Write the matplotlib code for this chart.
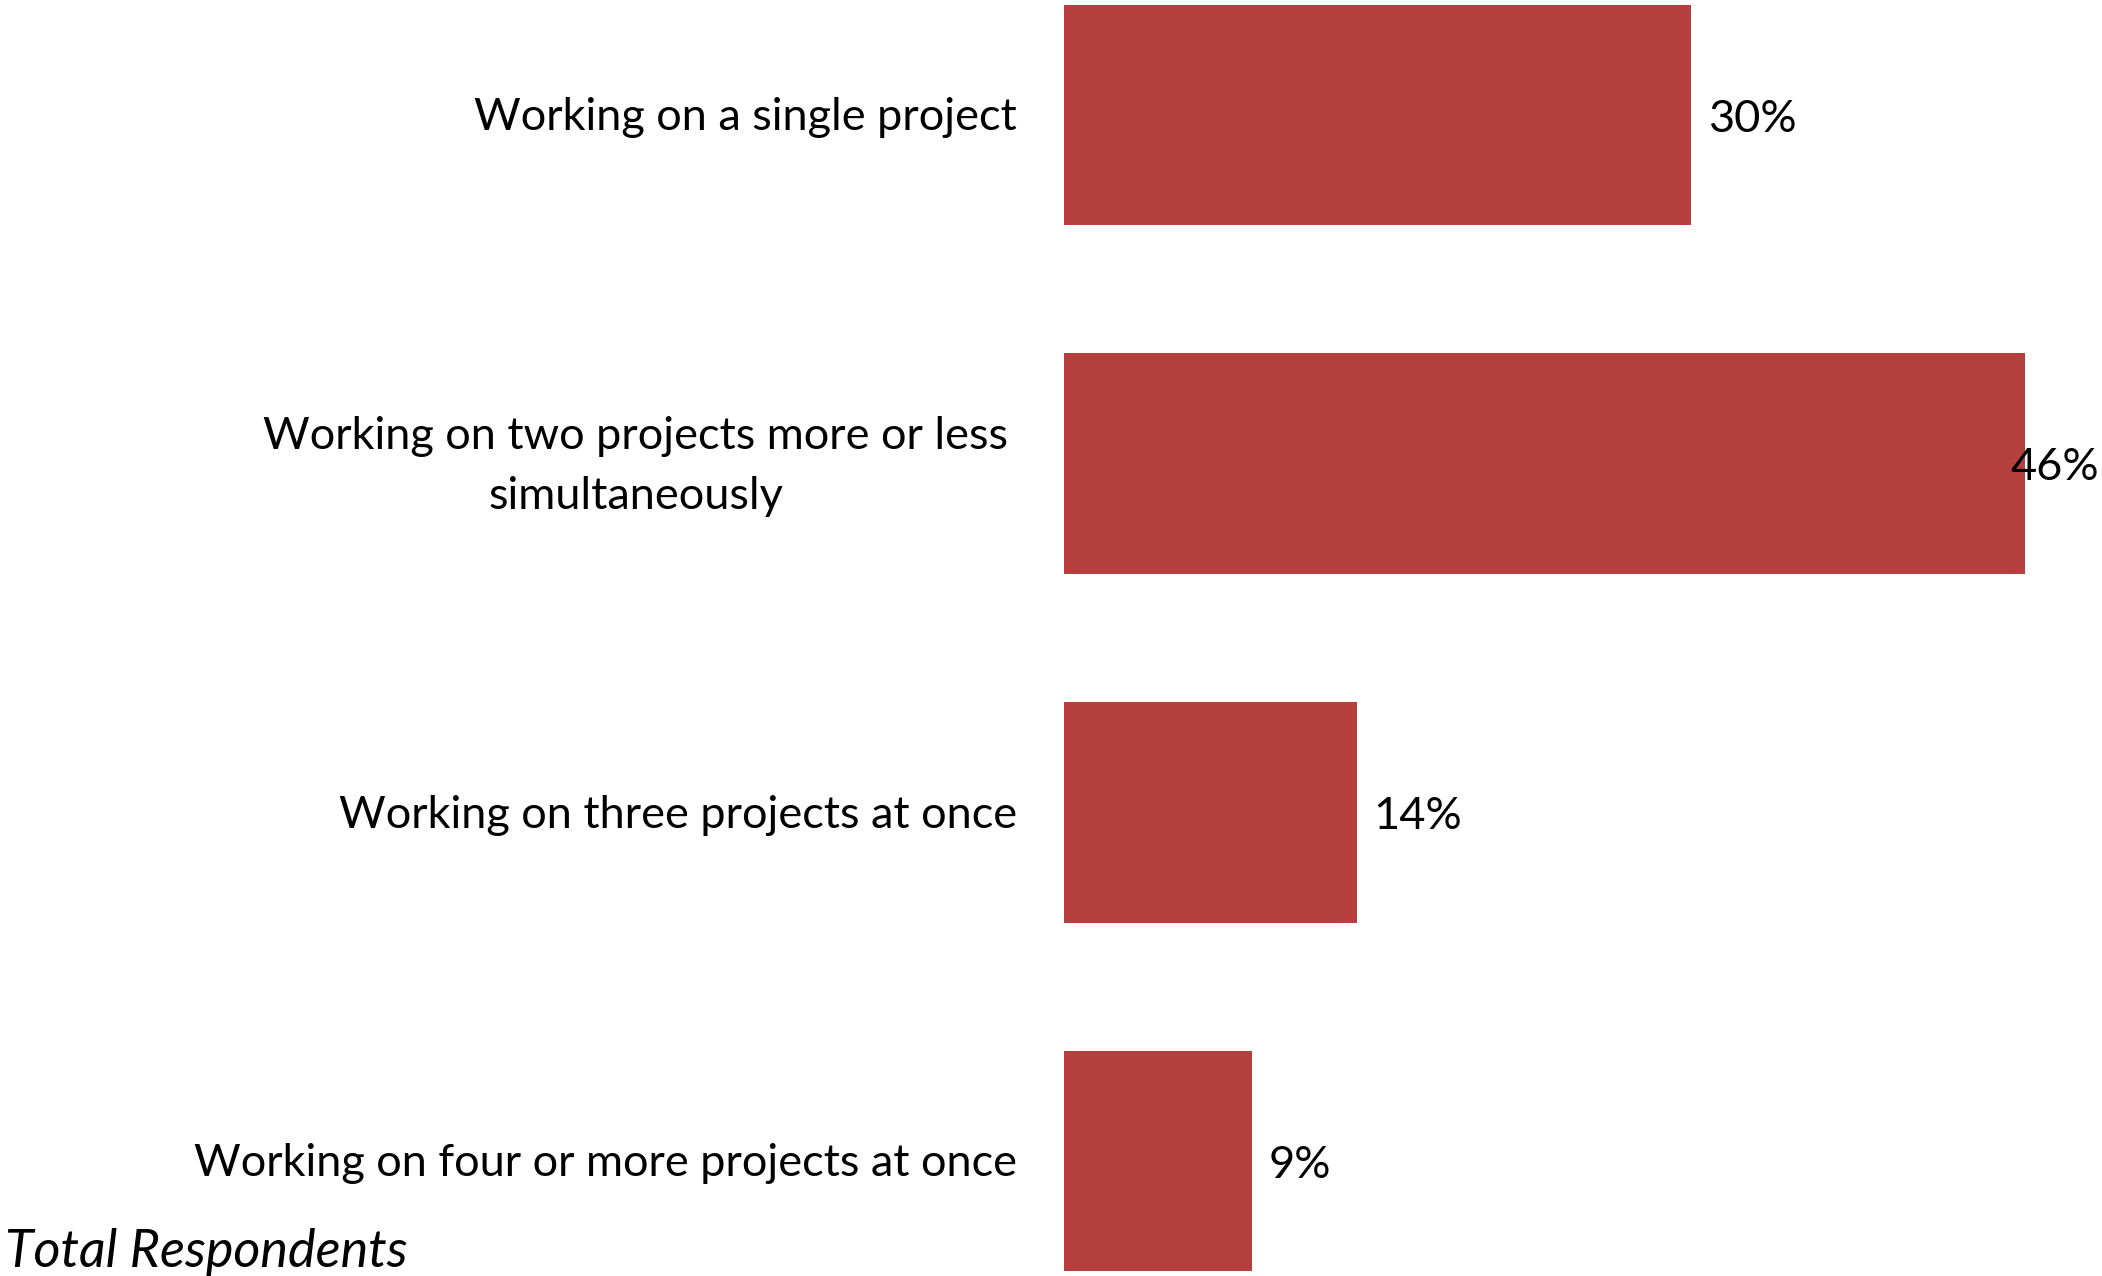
import matplotlib
matplotlib.use("Agg")
import matplotlib.pyplot as plt

categories = [
    "Working on a single project",
    "Working on two projects more or less\nsimultaneously",
    "Working on three projects at once",
    "Working on four or more projects at once",
]
values = [30, 46, 14, 9]
value_labels = ["30%", "46%", "14%", "9%"]

plt.rcParams["font.family"] = ["Lato", "DejaVu Sans"]

W, H = 2102, 1276
fig = plt.figure(figsize=(W / 100, H / 100), dpi=100)
ax = fig.add_axes([1064 / W, 0.0, (2067 - 1064) / W, 1.0])

bar_color = "#B5403D"
ypos = list(range(len(categories)))
ax.barh(ypos, values, height=0.633, color=bar_color, edgecolor="none")
ax.set_xlim(0, 48)
ax.set_ylim(3.33, -0.33)
ax.axis("off")

fs = 32.5
# category labels to the left of the bars
for y, cat in zip(ypos, categories):
    xr = 1017 if "\n" not in cat else 1008
    ax.annotate(cat, xy=(0, y), xycoords="data", xytext=(-(1064 - xr) * 0.72, -2),
                textcoords="offset points", ha="right", va="center",
                multialignment="center", fontsize=fs, color="black",
                linespacing=1.56)

# value labels at bar ends, kept inside the figure
fig.canvas.draw()
renderer = fig.canvas.get_renderer()
for y, v, lab in zip(ypos, values, value_labels):
    t = ax.annotate(lab, xy=(v, y), xycoords="data", xytext=(12, -3),
                    textcoords="offset points", ha="left", va="center",
                    fontsize=fs, color="black")
    bb = t.get_window_extent(renderer)
    if bb.x1 > W - 3:
        t.remove()
        ax.annotate(lab, xy=(1.0, y), xycoords=("figure fraction", "data"),
                    xytext=(-2, -3), textcoords="offset points", ha="right",
                    va="center", fontsize=fs, color="black")

fig.text(5 / W, 9 / H, "Total Respondents", ha="left", va="baseline",
         fontsize=37.5, fontstyle="italic", color="black")

fig.savefig("out.png", dpi=100)
